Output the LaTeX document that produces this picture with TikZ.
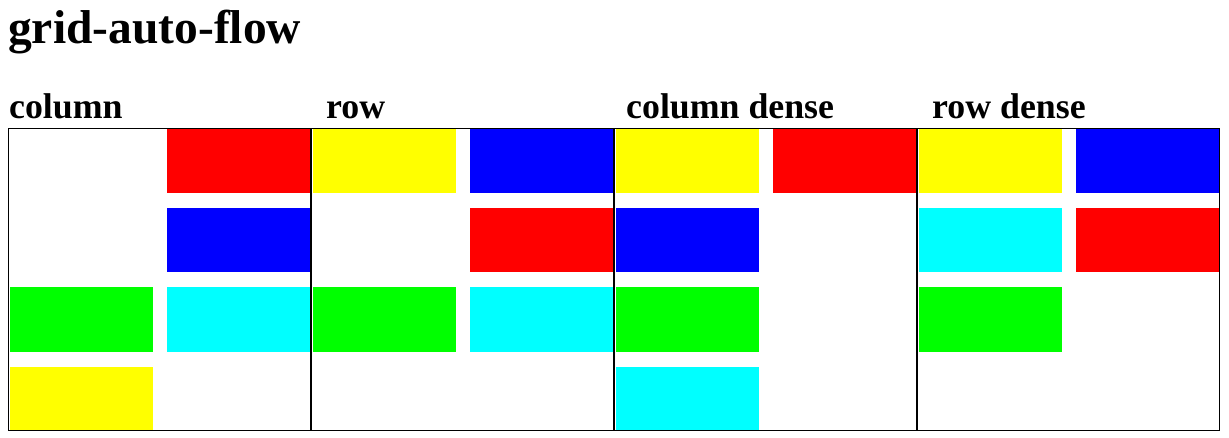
\documentclass[tikz,border=0pt]{standalone}
\usepackage{fontspec}
\setmainfont{Liberation Serif}
\definecolor{cRed}{RGB}{255,0,0}
\definecolor{cBlue}{RGB}{0,0,255}
\definecolor{cYellow}{RGB}{255,255,0}
\definecolor{cLime}{RGB}{0,255,0}
\definecolor{cCyan}{RGB}{0,255,255}
\begin{document}
\begin{tikzpicture}[x=1pt,y=-1pt,
  item/.style={inner sep=0pt,outer sep=0pt,minimum width=143pt,minimum height=64pt,anchor=north west,fill=#1},
  gridbox/.style={draw=black,line width=1pt,inner sep=0pt,outer sep=0pt,minimum width=302pt,minimum height=302pt},
  hone/.style={font=\fontsize{47.5}{50}\selectfont\bfseries,anchor=base west,inner sep=0pt},
  htwo/.style={font=\fontsize{35.8}{38}\selectfont\bfseries,anchor=base west,inner sep=0pt}]
\useasboundingbox[fill=white] (0,0) rectangle (1229,438);

\node[hone] (title) at (8,44) {grid-auto-flow};

\node[htwo] (t1) at (9,118.5) {column};
\node[htwo] (t2) at (326,118.5) {row};
\node[htwo] (t3) at (626,118.5) {column dense};
\node[htwo] (t4) at (932,118.5) {row dense};

% container 1: column  (L=8)
\node[item=cRed]    (a12) at (167,129.5) {};
\node[item=cBlue]   (a22) at (167,208.5) {};
\node[item=cLime]   (a31) at (9.5,287.5) {};
\node[item=cCyan]   (a32) at (167,287.5) {};
\node[item=cYellow] (a41) at (9.5,366.5) {};

% container 2: row (L=311)
\node[item=cYellow] (b11) at (312.5,129.5) {};
\node[item=cBlue]   (b12) at (470,129.5) {};
\node[item=cRed]    (b22) at (470,208.5) {};
\node[item=cLime]   (b31) at (312.5,287.5) {};
\node[item=cCyan]   (b32) at (470,287.5) {};

% container 3: column dense (L=614)
\node[item=cYellow] (c11) at (615.5,129.5) {};
\node[item=cRed]    (c12) at (773,129.5) {};
\node[item=cBlue]   (c21) at (615.5,208.5) {};
\node[item=cLime]   (c31) at (615.5,287.5) {};
\node[item=cCyan]   (c41) at (615.5,366.5) {};

% container 4: row dense (L=917)
\node[item=cYellow] (d11) at (918.5,129.5) {};
\node[item=cBlue]   (d12) at (1076,129.5) {};
\node[item=cCyan]   (d21) at (918.5,208.5) {};
\node[item=cRed]    (d22) at (1076,208.5) {};
\node[item=cLime]   (d31) at (918.5,287.5) {};

% grid borders
\node[gridbox] (g1) at (159.5,279.5) {};
\node[gridbox] (g2) at (462.5,279.5) {};
\node[gridbox] (g3) at (765.5,279.5) {};
\node[gridbox] (g4) at (1068.5,279.5) {};
\end{tikzpicture}
\end{document}
